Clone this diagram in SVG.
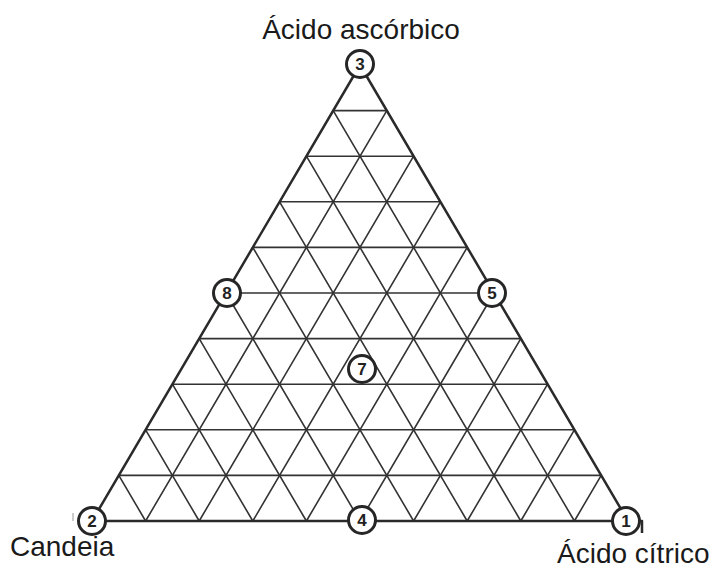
<svg xmlns="http://www.w3.org/2000/svg" width="713" height="572" viewBox="0 0 713 572">
<style>
.grid{stroke:#333;stroke-width:1.6;fill:none}
.edge{stroke:#2a2a2a;stroke-width:2.5;fill:none;stroke-linejoin:round}
.node circle{fill:#fff;stroke:#262626;stroke-width:3}
.node text{font-family:"Liberation Sans",Arial,sans-serif;font-size:17px;font-weight:bold;fill:#222;text-anchor:middle}
.lbl{font-family:"Liberation Sans",Arial,sans-serif;font-size:28px;fill:#1a1a1a}
</style>
<rect width="713" height="572" fill="#fff"/>
<g id="connectors">
<g class="grid">
<path d="M118.8 475.4H601.2M145.6 429.8H574.4M172.4 384.2H547.6M199.2 338.6H520.8M226 293H494M252.8 247.4H467.2M279.6 201.8H440.4M306.4 156.2H413.6M333.2 110.6H386.8"/>
<path d="M145.6 521L386.8 110.6M199.2 521L413.6 156.2M252.8 521L440.4 201.8M306.4 521L467.2 247.4M360 521L494 293M413.6 521L520.8 338.6M467.2 521L547.6 384.2M520.8 521L574.4 429.8M574.4 521L601.2 475.4"/>
<path d="M145.6 521L118.8 475.4M199.2 521L145.6 429.8M252.8 521L172.4 384.2M306.4 521L199.2 338.6M360 521L226 293M413.6 521L252.8 247.4M467.2 521L279.6 201.8M520.8 521L306.4 156.2M574.4 521L333.2 110.6"/>
</g>
<path class="edge" d="M92 521L360 65L628 521Z"/>
<path class="edge" d="M628 521H642V533" stroke-width="2.2"/>
<path d="M73 513V521" stroke="#bbb" stroke-width="1.5"/>
</g>
<g id="n3" class="node"><circle cx="360" cy="64" r="13.5"/><text x="360" y="70">3</text></g>
<g id="n2" class="node"><circle cx="92" cy="521" r="13.5"/><text x="92" y="527">2</text></g>
<g id="n1" class="node"><circle cx="626" cy="521" r="13.5"/><text x="626" y="527">1</text></g>
<g id="n4" class="node"><circle cx="362" cy="520" r="13.5"/><text x="362" y="526">4</text></g>
<g id="n8" class="node"><circle cx="227" cy="293" r="13.5"/><text x="227" y="299">8</text></g>
<g id="n5" class="node"><circle cx="492" cy="293" r="13.5"/><text x="492" y="299">5</text></g>
<g id="n7" class="node"><circle cx="362" cy="369" r="13.5"/><text x="362" y="375">7</text></g>
<text class="lbl" x="361" y="39" text-anchor="middle">Ácido ascórbico</text>
<text class="lbl" x="10" y="556">Candeia</text>
<text class="lbl" x="557" y="563">Ácido cítrico</text>
</svg>
